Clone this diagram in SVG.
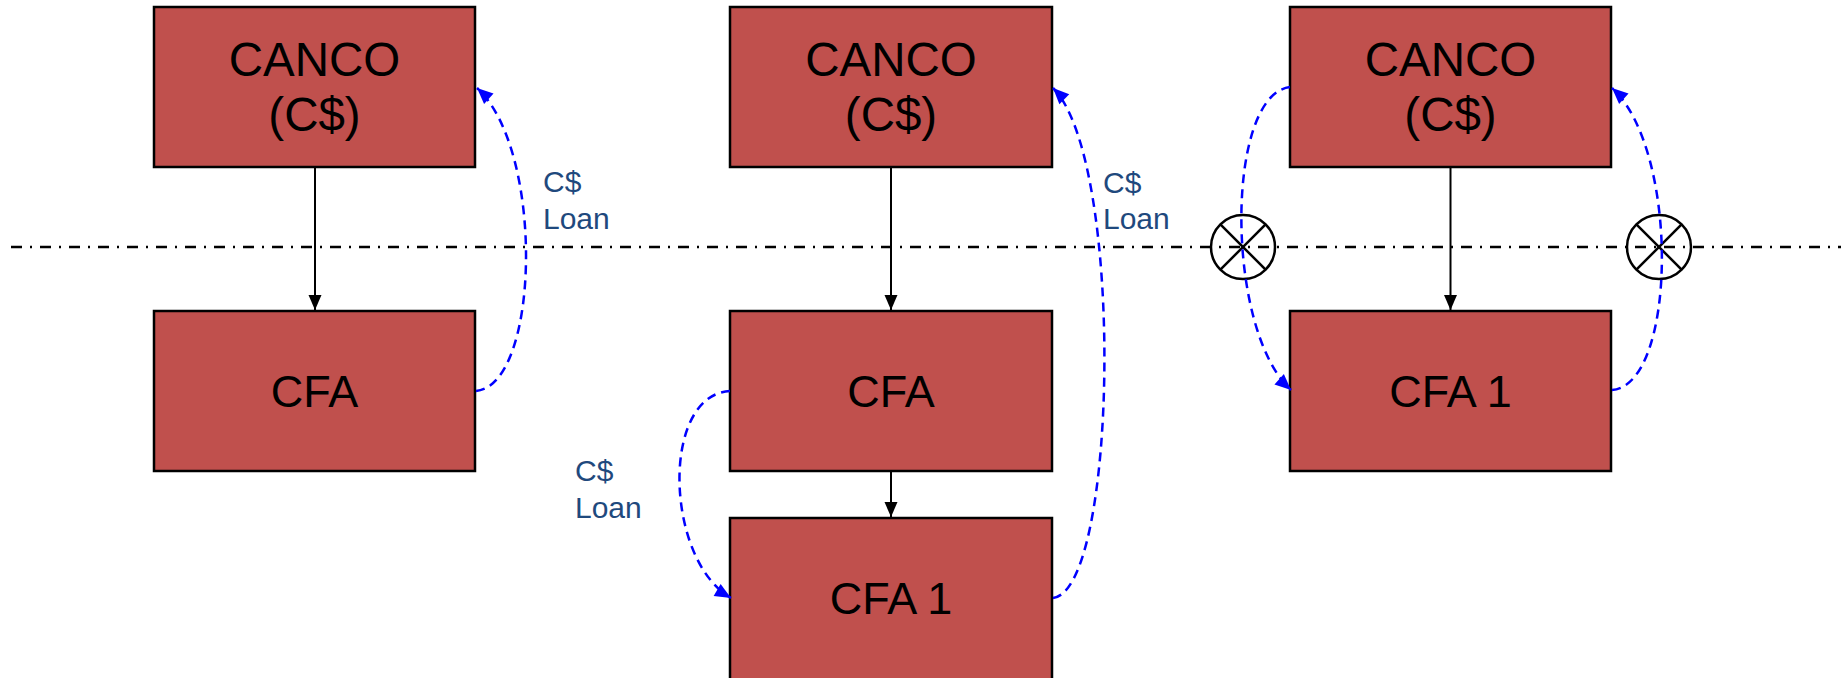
<svg xmlns="http://www.w3.org/2000/svg" width="1841" height="678" viewBox="0 0 1841 678">
<style>
.box{fill:#C0504D;stroke:#000;stroke-width:2.5}
.bt{font-family:"Liberation Sans",Arial,sans-serif;font-size:45px;fill:#000;text-anchor:middle}
.bt2{font-family:"Liberation Sans",Arial,sans-serif;font-size:47.5px;fill:#000;text-anchor:middle}
.lbl{font-family:"Liberation Sans",Arial,sans-serif;font-size:30px;fill:#1F497D}
.sol{stroke:#000;stroke-width:2;fill:none}
.dsh{stroke:#0000FF;stroke-width:2.5;fill:none;stroke-dasharray:9 6}
.cut{stroke:#000;stroke-width:2.5;fill:none}
</style>
<defs>
<marker id="ab" markerUnits="userSpaceOnUse" markerWidth="18" markerHeight="18" viewBox="0 0 18 18" refX="17" refY="9" orient="auto">
<path d="M2,2.5 L17,9 L2,15.5 Z" fill="#000"/>
</marker>
<marker id="ablue" markerUnits="userSpaceOnUse" markerWidth="18" markerHeight="18" viewBox="0 0 18 18" refX="17" refY="9" orient="auto">
<path d="M1,2 L17,9 L1,16 Z" fill="#0000FF"/>
</marker>
</defs>
<rect width="1841" height="678" fill="#fff"/>
<line x1="11" y1="247" x2="1841" y2="247" stroke="#000" stroke-width="2.5" stroke-dasharray="11 8 2 8"/>

<g id="canco1"><rect class="box" x="154" y="7" width="321" height="160"/><text class="bt2" x="314.5" y="76">CANCO</text><text class="bt2" x="314.5" y="131">(C$)</text></g>
<g id="cfa1"><rect class="box" x="154" y="311" width="321" height="160"/><text class="bt" x="314.5" y="407">CFA</text></g>

<g id="canco2"><rect class="box" x="730" y="7" width="322" height="160"/><text class="bt2" x="891" y="76">CANCO</text><text class="bt2" x="891" y="131">(C$)</text></g>
<g id="cfa2"><rect class="box" x="730" y="311" width="322" height="160"/><text class="bt" x="891" y="407">CFA</text></g>
<g id="cfa1_2"><rect class="box" x="730" y="518" width="322" height="162"/><text class="bt" x="891" y="614">CFA 1</text></g>

<g id="canco3"><rect class="box" x="1290" y="7" width="321" height="160"/><text class="bt2" x="1450.5" y="76">CANCO</text><text class="bt2" x="1450.5" y="131">(C$)</text></g>
<g id="cfa1_3"><rect class="box" x="1290" y="311" width="321" height="160"/><text class="bt" x="1450.5" y="407">CFA 1</text></g>

<g id="block1"><circle class="cut" cx="1243" cy="247" r="32"/><line class="cut" x1="1220.4" y1="224.4" x2="1265.6" y2="269.6"/><line class="cut" x1="1265.6" y1="224.4" x2="1220.4" y2="269.6"/></g>
<g id="block2"><circle class="cut" cx="1659" cy="247" r="32"/><line class="cut" x1="1636.4" y1="224.4" x2="1681.6" y2="269.6"/><line class="cut" x1="1681.6" y1="224.4" x2="1636.4" y2="269.6"/></g>

<g id="connectors">
<line class="sol" x1="315" y1="167" x2="315" y2="310" marker-end="url(#ab)"/>
<line class="sol" x1="891" y1="167" x2="891" y2="310" marker-end="url(#ab)"/>
<line class="sol" x1="891" y1="471" x2="891" y2="517" marker-end="url(#ab)"/>
<line class="sol" x1="1450.5" y1="167" x2="1450.5" y2="310" marker-end="url(#ab)"/>

<path class="dsh" d="M476,391 C540,385 545,150 477,88" marker-end="url(#ablue)"/>
<path class="dsh" d="M1053,598 C1118,590 1125,160 1053,88" marker-end="url(#ablue)"/>
<path class="dsh" d="M730,391 C660,395 665,560 731,598" marker-end="url(#ablue)"/>
<path class="dsh" d="M1290,87 C1225,95 1225,330 1291,390" marker-end="url(#ablue)"/>
<path class="dsh" d="M1612,390 C1677,385 1680,150 1612,88" marker-end="url(#ablue)"/>
</g>

<g id="labels">
<text class="lbl" x="543" y="192">C$</text><text class="lbl" x="543" y="229">Loan</text>
<text class="lbl" x="1103" y="193">C$</text><text class="lbl" x="1103" y="229">Loan</text>
<text class="lbl" x="575" y="481">C$</text><text class="lbl" x="575" y="518">Loan</text>
</g>
</svg>
